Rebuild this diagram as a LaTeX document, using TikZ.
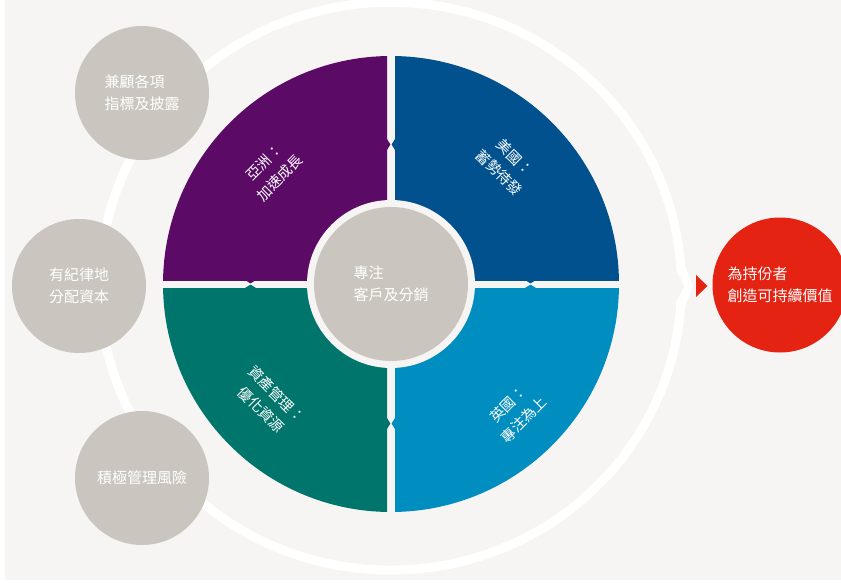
\documentclass[tikz,border=0pt]{standalone}
\usepackage{fontspec}
\usetikzlibrary{fadings}
\newfontfamily\cjk{Noto Sans CJK TC}
\definecolor{bgc}{HTML}{F6F5F3}
\definecolor{purp}{HTML}{5B0A66}
\definecolor{dblue}{HTML}{00518E}
\definecolor{teal}{HTML}{00756B}
\definecolor{lblue}{HTML}{008DBF}
\definecolor{grayc}{HTML}{CAC6BF}
\definecolor{redc}{HTML}{E42313}
\pgfdeclareverticalshading{ringshade}{100bp}{color(0bp)=(white!20!black); color(18bp)=(white); color(82bp)=(white); color(100bp)=(white!20!black)}
\pgfdeclarefading{ringfade}{\pgfuseshading{ringshade}}
\begin{document}
\begin{tikzpicture}[x=1pt,y=-1pt,
  txt/.style={text=white, font=\cjk\fontsize{15}{22}\selectfont, inner sep=0pt},
  sat/.style={circle, fill=grayc, minimum size=134pt, inner sep=0pt, txt, align=left},
  qtxt/.style={txt, align=center, font=\cjk\fontsize{14.5}{22}\selectfont}]
\useasboundingbox (0,0) rectangle (841,583);
\fill[white] (0,0) rectangle (841,583);
\fill[bgc] (5,0) rectangle (841,580);
% outer white ring with chevron
\draw[white, line width=9pt, path fading=ringfade, fit fading=true] (391,286) ellipse[x radius=291pt, y radius=284pt];
\fill[white] (685,265) -- (693,286) -- (685,307) -- cycle;
\fill[bgc] (676.5,271) -- (684.5,286) -- (676.5,301) -- cycle;
% quadrants
\begin{scope}\clip (395,280) rectangle (700,0);
  \fill[dblue] (391,284) circle[radius=228pt];\end{scope}
\begin{scope}\clip (387,280) rectangle (100,0);
  \fill[purp] (391,284) circle[radius=228pt];\end{scope}
\begin{scope}\clip (387,288) rectangle (100,583);
  \fill[teal] (391,284) circle[radius=228pt];\end{scope}
\begin{scope}\clip (395,288) rectangle (700,583);
  \fill[lblue] (391,284) circle[radius=228pt];\end{scope}
% notches
\fill[purp] (387,139) -- (390.4,144.5) -- (387,150) -- cycle;
\fill[dblue] (395,139) -- (391.6,144.5) -- (395,150) -- cycle;
\fill[dblue] (525,280) -- (530.5,283.4) -- (536,280) -- cycle;
\fill[lblue] (525,288) -- (530.5,284.6) -- (536,288) -- cycle;
\fill[teal] (387,418) -- (390.4,423.5) -- (387,429) -- cycle;
\fill[lblue] (395,418) -- (391.6,423.5) -- (395,429) -- cycle;
\fill[purp] (245,280) -- (250.5,283.4) -- (256,280) -- cycle;
\fill[teal] (245,288) -- (250.5,284.6) -- (256,288) -- cycle;
% center
\fill[bgc] (391,284) circle[radius=84pt];
\node[sat, minimum size=154pt] (core) at (391,284) {專注\\客戶及分銷};
% quadrant labels
\node[qtxt, rotate=45] (asia) at (272,170) {亞洲：\\加速成長};
\node[qtxt, rotate=-45] (us) at (507,165) {美國：\\蓄勢待發};
\node[qtxt, rotate=-45] (am) at (269,402) {資產管理：\\優化資源};
\node[qtxt, rotate=45] (uk) at (516,412) {英國：\\專注為上};
% satellites
\node[sat] (s1) at (142,93) {兼顧各項\\指標及披露};
\node[sat] (s2) at (79,286) {有紀律地\\分配資本};
\node[sat] (s3) at (142,478) {積極管理風險};
% output
\fill[redc] (696,275) -- (707.5,286) -- (696,297) -- cycle;
\node[sat, fill=redc, minimum size=135pt] (out) at (780,285) {為持份者\\創造可持續價值};
\end{tikzpicture}
\end{document}
